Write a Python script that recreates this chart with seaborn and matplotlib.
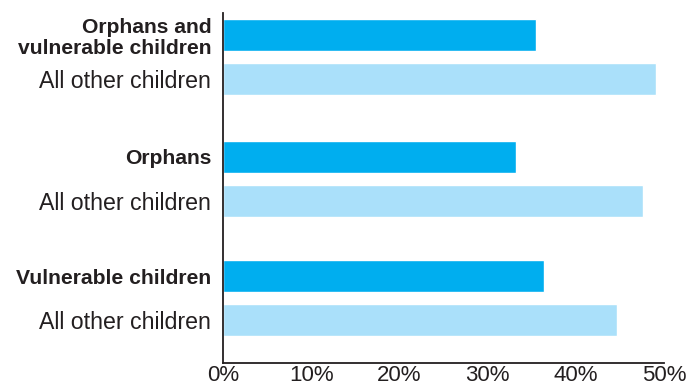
import pandas as pd
import seaborn as sns
import matplotlib.pyplot as plt

# bar labels (top to bottom) and values in percent
labels = ['Orphans and\nvulnerable children', 'All other children',
          'Orphans', 'All other children',
          'Vulnerable children', 'All other children']
groups = ['focus', 'other', 'focus', 'other', 'focus', 'other']
values = [35.5, 49.1, 33.2, 47.6, 36.4, 44.7]

# vertical slots for the bars (wider gap between groups)
slots = [0, 1, 2.77, 3.77, 5.48, 6.48]

df = pd.DataFrame({'pos': slots, 'val': values, 'grp': groups})

sns.set_style('white')
plt.rcParams['font.family'] = ['Liberation Sans', 'DejaVu Sans']

ink = '#231f20'
fig = plt.figure(figsize=(6.86, 3.85), dpi=100)
ax = fig.add_axes([0.325, 0.058, 0.643, 0.908])

sns.barplot(data=df, x='val', y='pos', hue='grp', orient='h', native_scale=True,
            dodge=False, palette={'focus': '#00aeef', 'other': '#aae0fa'},
            width=0.727, saturation=1, legend=False, ax=ax)

ax.set_xlim(0, 50)
ax.set_ylim(7.45, -0.5)
ax.set_xticks(range(0, 51, 10))
ax.set_xticklabels([f'{t}%' for t in range(0, 51, 10)], fontsize=16, color=ink)
ax.set_yticks(slots)
ax.set_yticklabels(labels, fontsize=16.7, color=ink, multialignment='right',
                   linespacing=1.1)
for i, t in enumerate(ax.get_yticklabels()):
    if groups[i] == 'focus':
        t.set_fontweight('bold')
        t.set_fontsize(15.2)

ax.tick_params(axis='x', direction='in', length=7, width=1.2, color=ink, pad=2)
ax.tick_params(axis='y', length=0, pad=8.5)
ax.set_xlabel('')
ax.set_ylabel('')
for s in ['top', 'right']:
    ax.spines[s].set_visible(False)
for s in ['left', 'bottom']:
    ax.spines[s].set_color(ink)
    ax.spines[s].set_linewidth(1.3)

fig.savefig('out.png', dpi=100)
